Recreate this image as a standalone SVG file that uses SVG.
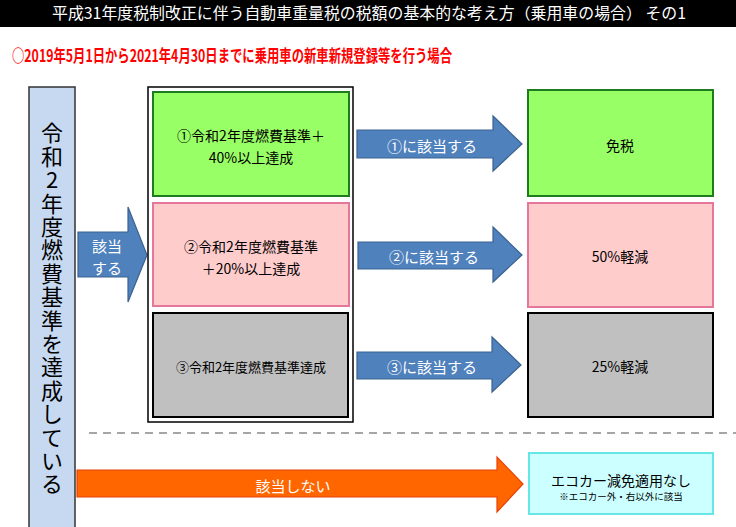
<svg xmlns="http://www.w3.org/2000/svg" width="736" height="527" viewBox="0 0 736 527">
<style>
text{font-family:"Noto Sans CJK JP","Noto Sans CJK SC",sans-serif;}
.c{text-anchor:middle;dominant-baseline:central;}
.bk{fill:#000;font-size:14px;}
.wt{fill:#fff;font-size:15px;}
.barrow{fill:#4f81bd;stroke:#3a6290;stroke-width:1.2;}
</style>
<rect width="736" height="527" fill="#fff"/>
<g id="title">
<rect x="0" y="0" width="736" height="27" fill="#000"/>
<text x="52" y="19" fill="#fff" font-size="15.5" textLength="634" lengthAdjust="spacingAndGlyphs">平成31年度税制改正に伴う自動車重量税の税額の基本的な考え方（乗用車の場合） その1</text>
</g>
<g id="subtitle">
<text x="12" y="62" fill="#ff0000" font-size="16.5" font-weight="bold" textLength="440" lengthAdjust="spacingAndGlyphs">○2019年5月1日から2021年4月30日までに乗用車の新車新規登録等を行う場合</text>
</g>
<g id="connectors">
<line x1="89" y1="433" x2="736" y2="433" stroke="#a6a6a6" stroke-width="2" stroke-dasharray="8,6"/>
<path class="barrow" d="M78,232 H128 V207 L147,255 L128,302 V277 H78 Z"/>
<path class="barrow" d="M357,130 H493 V116 L522,144 L493,171 V158 H357 Z"/>
<path class="barrow" d="M358,242 H493 V227 L522,255 L493,282 V269 H358 Z"/>
<path class="barrow" d="M357,352 H492 V337 L521,365 L492,392 V379 H357 Z"/>
<path d="M77,470 H497 V457 L523,484 L497,512 V497 H77 Z" fill="#ff6600" stroke="#e8400a" stroke-width="1.2"/>
<text class="c wt" x="107" y="245">該当</text>
<text class="c wt" x="107" y="267">する</text>
<text class="c wt" x="432" y="145">①に該当する</text>
<text class="c wt" x="434" y="256">②に該当する</text>
<text class="c wt" x="432" y="366">③に該当する</text>
<text class="c wt" x="293" y="485">該当しない</text>
</g>
<g id="left">
<rect x="29" y="87" width="46" height="445" fill="#c6d9f1" stroke="#333" stroke-width="1.5"/>
<text x="52" y="122" font-size="22" fill="#000" style="writing-mode:vertical-rl;text-orientation:upright;letter-spacing:1.4px">令和2年度燃費基準を達成している</text>
</g>
<g id="group">
<rect x="148" y="87" width="205" height="335" fill="#fff" stroke="#000" stroke-width="1.5"/>
</g>
<g id="cond1">
<rect x="153" y="92" width="196" height="104" fill="#99ff66" stroke="#1e7b1e" stroke-width="2"/>
<text class="c bk" x="251" y="135">①令和2年度燃費基準＋</text>
<text class="c bk" x="251" y="157">40%以上達成</text>
</g>
<g id="cond2">
<rect x="153" y="203" width="196" height="103" fill="#ffcccc" stroke="#e5789a" stroke-width="2"/>
<text class="c bk" x="251" y="246">②令和2年度燃費基準</text>
<text class="c bk" x="251" y="268">＋20%以上達成</text>
</g>
<g id="cond3">
<rect x="153" y="313" width="195" height="104" fill="#c0c0c0" stroke="#000" stroke-width="2"/>
<text class="c" x="251" y="366" font-size="13" fill="#000">③令和2年度燃費基準達成</text>
</g>
<g id="res1">
<rect x="528" y="90" width="185" height="106" fill="#99ff66" stroke="#1e7b1e" stroke-width="2"/>
<text class="c bk" x="620" y="145">免税</text>
</g>
<g id="res2">
<rect x="528" y="203" width="185" height="104" fill="#ffcccc" stroke="#e5789a" stroke-width="2"/>
<text class="c bk" x="620" y="256">50%軽減</text>
</g>
<g id="res3">
<rect x="528" y="313" width="185" height="104" fill="#c0c0c0" stroke="#000" stroke-width="2"/>
<text class="c bk" x="620" y="366">25%軽減</text>
</g>
<g id="res4">
<rect x="529" y="453" width="184" height="61" fill="#ccffff" stroke="#66e6e6" stroke-width="2"/>
<text class="c bk" x="621" y="480">エコカー減免適用なし</text>
<text class="c" x="621" y="496" font-size="9.5" fill="#000">※エコカー外・右以外に該当</text>
</g>
</svg>
